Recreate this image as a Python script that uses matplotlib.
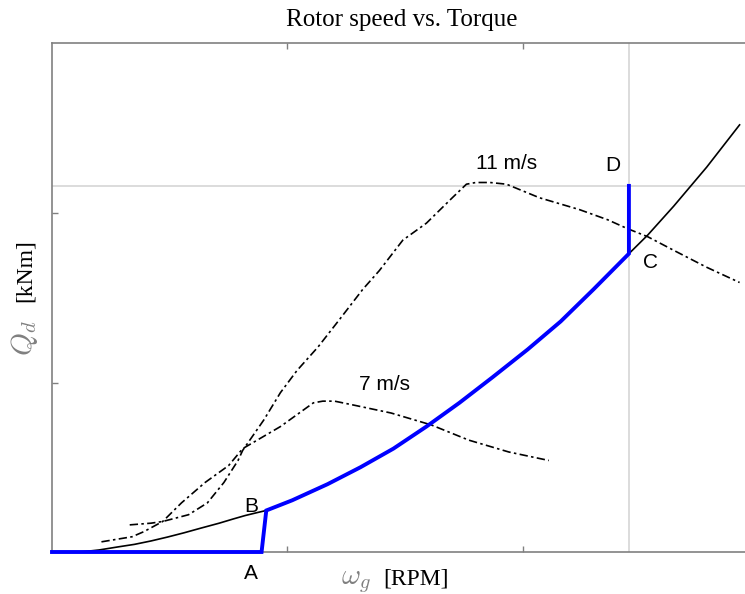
import matplotlib
matplotlib.use("Agg")
import matplotlib.pyplot as plt

# torque-speed curves (x: generator speed, y: torque, arbitrary units)
w_7 = [0.21, 0.34, 0.39, 0.47, 0.55, 0.65, 0.75, 0.81, 0.97, 1.11, 1.15, 1.20, 1.27, 1.44, 1.61, 1.77, 1.94, 2.11]
q_7 = [0.06, 0.09, 0.12, 0.18, 0.29, 0.41, 0.51, 0.61, 0.74, 0.88, 0.89, 0.89, 0.87, 0.82, 0.75, 0.66, 0.59, 0.54]

w_11 = [0.33, 0.42, 0.47, 0.58, 0.66, 0.73, 0.79, 0.81, 0.90, 0.97, 1.04, 1.13, 1.22, 1.32, 1.39,
        1.49, 1.59, 1.70, 1.76, 1.80, 1.86, 1.93, 2.07, 2.24, 2.36, 2.44, 2.53, 2.64, 2.78, 2.92]
q_11 = [0.16, 0.17, 0.18, 0.22, 0.29, 0.41, 0.54, 0.60, 0.78, 0.94, 1.07, 1.21, 1.37, 1.55, 1.66,
        1.84, 1.94, 2.09, 2.17, 2.18, 2.18, 2.17, 2.09, 2.02, 1.96, 1.91, 1.86, 1.78, 1.68, 1.59]

# optimal (k*w^2) tracking curve
w_opt = [0.12, 0.20, 0.28, 0.35, 0.42, 0.49, 0.56, 0.63, 0.71, 0.77, 0.82, 0.87, 0.91,
         1.02, 1.17, 1.31, 1.45, 1.59, 1.73, 1.87, 2.02, 2.16, 2.30, 2.45, 2.53, 2.64, 2.78, 2.92]
q_opt = [0.0, 0.012, 0.03, 0.045, 0.065, 0.088, 0.113, 0.14, 0.17, 0.195, 0.215, 0.232, 0.245,
         0.305, 0.40, 0.50, 0.61, 0.74, 0.88, 1.03, 1.195, 1.36, 1.55, 1.76, 1.87, 2.04, 2.27, 2.52]

# controller trajectory 0-A-B-...-C-D
w_ctrl = [0.0, 0.89, 0.91, 1.02, 1.17, 1.31, 1.45, 1.59, 1.73, 1.87, 2.02, 2.16, 2.30, 2.45, 2.45]
q_ctrl = [0.0, 0.0, 0.245, 0.305, 0.40, 0.50, 0.61, 0.74, 0.88, 1.03, 1.195, 1.36, 1.55, 1.76, 2.16]

w_rated = 2.45
q_rated = 2.16

grey = "#808080"

fig = plt.figure(figsize=(7.45, 5.94), dpi=100)
ax = fig.add_axes([52 / 745, 42 / 594, 693 / 745, 509 / 594])

ax.axvline(w_rated, color="#d6d6d6", lw=1.2, zorder=1)
ax.axhline(q_rated, color="#d6d6d6", lw=1.2, zorder=1)

ax.plot(w_7, q_7, color="black", lw=1.2, ls=(0, (5, 2, 1.5, 2)), zorder=2)
ax.plot(w_11, q_11, color="black", lw=1.2, ls=(0, (5, 2, 1.5, 2)), zorder=2)
ax.plot(w_opt, q_opt, color="black", lw=1.2, zorder=3)
ax.plot(w_ctrl, q_ctrl, color="#0000ff", lw=2.8, zorder=4, clip_on=False,
        solid_joinstyle="miter")

ax.set_xlim(0, 2.943)
ax.set_ylim(0, 3.003)
ax.set_xticks([1, 2])
ax.set_yticks([1, 2])
ax.set_xticklabels([])
ax.set_yticklabels([])
ax.tick_params(direction="in", top=True, right=False, length=4.5, color=grey, width=1)
ax.spines["right"].set_visible(False)
for s in ["left", "bottom", "top"]:
    ax.spines[s].set_color(grey)
    ax.spines[s].set_linewidth(1.2)

lab = dict(fontsize=15, family="Liberation Sans", ha="center", va="center")
ax.text(1.93, 2.29, "11 m/s", **lab)
ax.text(1.41, 0.99, "7 m/s", **lab)
ax.text(2.38, 2.28, "D", **lab)
ax.text(2.54, 1.71, "C", **lab)
ax.text(0.845, 0.27, "B", **lab)
ax.text(0.845, -0.125, "A", clip_on=False, **lab)

plt.rcParams["mathtext.fontset"] = "cm"
fig.text(402 / 745, 1 - 20 / 594, "Rotor speed vs. Torque", family="Liberation Serif",
         fontsize=18, ha="center", va="center")
fig.text(371 / 745, 1 - 581 / 594, r"$\omega_g$", color=grey, fontsize=21, ha="right", va="center")
fig.text(383 / 745, 1 - 579 / 594, "[RPM]", family="Liberation Serif", fontsize=17,
         ha="left", va="center")
fig.text(25 / 745, 1 - 338 / 594, r"$Q_d$", color=grey, fontsize=21, rotation=90,
         ha="center", va="center")
fig.text(25 / 745, 1 - 271 / 594, "[kNm]", family="Liberation Serif", fontsize=17,
         rotation=90, ha="center", va="center")

fig.savefig("out.png", dpi=100, facecolor="white")
